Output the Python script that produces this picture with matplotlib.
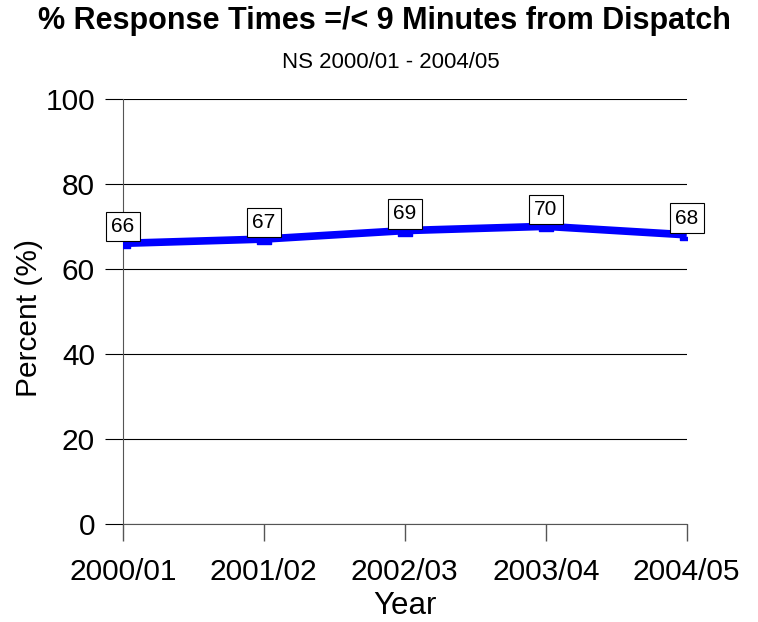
import matplotlib.pyplot as plt
from matplotlib.path import Path
import numpy as np

plt.rcParams['font.family'] = ['Liberation Sans', 'DejaVu Sans']

years = ["2000/01", "2001/02", "2002/03", "2003/04", "2004/05"]
percent = [66, 67, 69, 70, 68]
yticks = [0, 20, 40, 60, 80, 100]

fig = plt.figure(figsize=(7.58, 6.22), dpi=100)
ax = fig.add_axes([0.162, 0.158, 0.744, 0.683])

x = np.arange(len(years))

# small dash marker sitting just under the line
dash = Path([(-1, -0.3), (1, -0.3), (1, -0.75), (-1, -0.75), (-1, -0.3)],
            [Path.MOVETO, Path.LINETO, Path.LINETO, Path.LINETO, Path.CLOSEPOLY])
ax.plot(x, percent, color='#0000ff', lw=5.5, solid_capstyle='butt', zorder=3)
ax.plot(x, percent, ls='none', marker=dash, ms=10, color='#0000ff', zorder=3)

for xi, v in zip(x, percent):
    ax.annotate(str(v), (xi, v), xytext=(0, 12), textcoords='offset points',
                ha='center', va='center', fontsize=15, zorder=5,
                bbox=dict(boxstyle='square,pad=0.25', fc='white', ec='black', lw=0.8))

ax.set_xlim(0, len(years) - 1)
ax.set_ylim(0, 100)
ax.set_xticks(x)
ax.set_xticklabels(years, fontsize=21.5)
ax.set_yticks(yticks)
ax.set_yticklabels([str(t) for t in yticks], fontsize=21.5)
ax.yaxis.grid(True, color='black', lw=0.8)
ax.set_axisbelow(True)
for s in ['top', 'right', 'bottom']:
    ax.spines[s].set_visible(False)
ax.spines['left'].set_color('#555555')
ax.tick_params(axis='x', length=12.5, width=1, color='#555555', direction='out', pad=12)
ax.tick_params(axis='y', length=13, width=0.8, color='black', pad=7)
# x ticks cross the 0 gridline and extend below
ax.axhline(0, color='#555555', lw=0.8, clip_on=False)

ax.set_xlabel('Year', fontsize=22.5, labelpad=4)
ax.set_ylabel('Percent (%)', fontsize=21.5)
ax.yaxis.set_label_coords(-0.142, 0.485)

fig.text(0.507, 0.966, '% Response Times =/< 9 Minutes from Dispatch',
         ha='center', va='center', fontsize=22, fontweight='bold')
fig.text(0.516, 0.899, 'NS 2000/01 - 2004/05', ha='center', va='center', fontsize=16)

fig.savefig('out.png', dpi=100)
